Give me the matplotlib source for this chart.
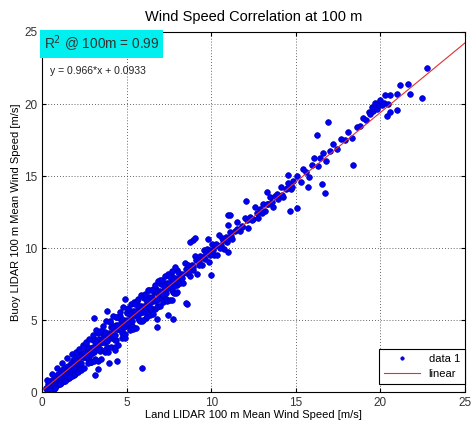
"""Wind speed correlation at 100 m: buoy LIDAR vs land LIDAR scatter."""

import matplotlib

matplotlib.use("Agg")
import matplotlib.pyplot as plt
import numpy as np

plt.rcParams["font.family"] = ["Liberation Sans", "DejaVu Sans"]

# fit reported on the chart
FIT_SLOPE = 0.966
FIT_INTERCEPT = 0.0933
R2_TEXT = "R$^2$ @ 100m = 0.99"
FIT_TEXT = "y = 0.966*x + 0.0933"

# low speeds, very dense
low_x = [0.25, 0.30, 0.35, 0.40, 0.45, 0.50, 0.55, 0.60, 0.62, 0.68, 0.70, 0.75, 0.78, 0.80,
         0.85, 0.88, 0.90, 0.95, 0.98, 1.00, 1.02, 1.05, 1.10, 1.12, 1.15, 1.18, 1.20, 1.25,
         1.28, 1.30, 1.32, 1.35, 1.40, 1.42, 1.45, 1.48, 1.50, 1.55, 1.58, 1.60, 1.62, 1.65,
         1.70, 1.72, 1.75, 1.78, 1.80, 1.85, 1.88, 1.90, 1.92, 1.95, 1.98, 2.00,
         0.30, 0.45, 0.60, 0.75, 0.90, 1.05, 1.20, 1.35, 1.50, 1.65, 1.80, 1.95]
low_y = [0.30, 0.15, 0.55, 0.35, 0.20, 0.70, 0.45, 0.30, 0.85, 0.55, 0.25, 0.95, 0.60, 0.40,
         1.10, 0.75, 0.50, 1.25, 0.85, 0.55, 1.05, 0.70, 1.45, 0.95, 0.65, 1.25, 0.80, 1.60,
         1.10, 0.75, 1.40, 0.95, 1.75, 1.20, 0.90, 1.55, 1.05, 1.85, 1.35, 0.95, 1.65, 1.20,
         2.05, 1.50, 1.10, 1.80, 1.35, 2.20, 1.60, 1.20, 1.95, 1.45, 2.30, 1.75,
         0.83, 0.17, 1.27, 0.31, 1.66, 0.55, 2.00, 0.79, 2.34, 1.03, 2.68, 1.27]

# 2 - 5 m/s
band_x = [2.05, 2.15, 2.25, 2.35, 2.45, 2.55, 2.65, 2.75, 2.85, 2.95, 3.05, 3.15, 3.25, 3.35,
          3.45, 3.55, 3.65, 3.75, 3.85, 3.95, 4.05, 4.15, 4.25, 4.35, 4.45, 4.55, 4.65, 4.75,
          4.85, 4.95,
          2.10, 2.20, 2.30, 2.40, 2.50, 2.60, 2.70, 2.80, 2.90, 3.00, 3.10, 3.20, 3.30, 3.40,
          3.50, 3.60, 3.70, 3.80, 3.90, 4.00, 4.10, 4.20, 4.30, 4.40, 4.50, 4.60, 4.70, 4.80,
          4.90, 5.00,
          2.02, 2.12, 2.22, 2.32, 2.42, 2.52, 2.62, 2.72, 2.82, 2.92, 3.02, 3.12, 3.22, 3.32,
          3.42, 3.52, 3.62, 3.72, 3.82, 3.92, 4.02, 4.12, 4.22, 4.32, 4.42, 4.52, 4.62, 4.72,
          4.82, 4.92,
          2.0, 2.1, 2.2, 2.3, 2.4, 2.5, 2.6, 2.7, 2.8, 2.9, 3.0, 3.1, 3.2, 3.3, 3.4, 3.5, 3.6,
          3.7, 3.8, 3.9, 4.0, 4.1, 4.2, 4.3, 4.4, 4.5, 4.6, 4.7, 4.8, 4.9]
band_y = [2.62, 1.82, 2.41, 1.66, 3.26, 2.45, 3.05, 2.20, 3.09, 2.69, 3.69, 2.28, 3.28, 3.68,
          2.97, 4.22, 3.47, 4.21, 3.16, 4.11, 4.55, 3.75, 4.35, 3.59, 5.19, 4.39, 4.98, 4.13,
          5.03, 4.62,
          1.92, 2.67, 1.71, 2.71, 2.46, 3.35, 2.30, 2.89, 2.09, 3.59, 2.78, 3.38, 4.13, 2.87,
          3.47, 4.02, 2.91, 4.06, 3.66, 4.85, 3.85, 4.60, 3.64, 4.64, 4.39, 5.28, 4.23, 4.83,
          4.02, 5.52,
          2.14, 1.99, 2.53, 2.03, 2.43, 2.72, 2.52, 3.07, 2.56, 2.96, 3.11, 2.95, 3.50, 3.00,
          3.39, 3.69, 3.49, 4.03, 3.53, 3.93, 4.07, 3.92, 4.47, 3.96, 4.36, 4.66, 4.45, 5.00,
          4.50, 4.89,
          2.77, 1.42, 3.02, 1.56, 3.11, 1.71, 3.45, 2.00, 3.69, 2.09, 3.99, 2.13, 4.33, 2.18,
          4.27, 2.27, 4.62, 2.76, 4.96, 2.81, 4.95, 3.10, 5.30, 3.14, 5.24, 3.24, 5.58, 3.73,
          5.93, 3.77]

# 5 - 8 m/s
mid_x = [5.05, 5.15, 5.25, 5.35, 5.45, 5.55, 5.65, 5.75, 5.85, 5.95, 6.05, 6.15, 6.25, 6.35,
         6.45, 6.55, 6.65, 6.75, 6.85, 6.95, 7.05, 7.15, 7.25, 7.35, 7.45, 7.55, 7.65, 7.75,
         7.85, 7.95,
         5.10, 5.20, 5.30, 5.40, 5.50, 5.60, 5.70, 5.80, 5.90, 6.00, 6.10, 6.20, 6.30, 6.40,
         6.50, 6.60, 6.70, 6.80, 6.90, 7.00, 7.10, 7.20, 7.30, 7.40, 7.50, 7.60, 7.70, 7.80,
         7.90, 8.00,
         5.02, 5.12, 5.22, 5.32, 5.42, 5.52, 5.62, 5.72, 5.82, 5.92, 6.02, 6.12, 6.22, 6.32,
         6.42, 6.52, 6.62, 6.72, 6.82, 6.92, 7.02, 7.12, 7.22, 7.32, 7.42, 7.52, 7.62, 7.72,
         7.82, 7.92,
         5.08, 5.18, 5.28, 5.38, 5.48, 5.58, 5.68, 5.78, 5.88, 5.98, 6.08, 6.18, 6.28, 6.38,
         6.48, 6.58, 6.68, 6.78, 6.88, 6.98, 7.08, 7.18, 7.28, 7.38, 7.48, 7.58, 7.68, 7.78,
         7.88, 7.98]
mid_y = [5.57, 4.66, 5.31, 4.51, 6.25, 5.35, 6.00, 5.04, 5.99, 5.54, 6.63, 5.13, 6.18, 6.62,
         5.82, 7.17, 6.36, 7.16, 6.01, 7.00, 7.50, 6.60, 7.24, 6.44, 8.19, 7.28, 7.93, 6.98,
         7.92, 7.47,
         4.82, 5.61, 4.56, 5.66, 5.35, 6.30, 5.15, 5.79, 4.94, 6.54, 5.63, 6.28, 7.08, 5.72,
         6.37, 6.97, 5.76, 7.01, 6.56, 7.80, 6.75, 7.55, 6.49, 7.59, 7.29, 8.23, 7.08, 7.73,
         6.87, 8.47,
         5.04, 4.89, 5.43, 4.93, 5.33, 5.62, 5.42, 5.97, 5.46, 5.86, 6.01, 5.85, 6.40, 5.90,
         6.29, 6.59, 6.39, 6.93, 6.43, 6.83, 6.97, 6.82, 7.37, 6.86, 7.26, 7.55, 7.35, 7.90,
         7.39, 7.79,
         5.85, 4.29, 6.14, 4.39, 6.13, 4.48, 6.48, 4.92, 6.77, 5.02, 6.81, 5.26, 7.11, 5.35,
         7.10, 5.45, 7.44, 5.89, 7.74, 5.98, 7.78, 6.23, 8.07, 6.32, 8.07, 6.41, 8.41, 6.86,
         8.70, 6.95]

# 8 - 11 m/s
upper_x = [8.05, 8.15, 8.25, 8.35, 8.45, 8.55, 8.65, 8.75, 8.85, 8.95, 9.05, 9.15, 9.25, 9.35,
           9.45, 9.55, 9.65, 9.75, 9.85, 9.95, 10.05, 10.15, 10.25, 10.35, 10.45, 10.55, 10.65,
           10.75, 10.85, 10.95,
           8.1, 8.3, 8.5, 8.7, 8.9, 9.1, 9.3, 9.5, 9.7, 9.9, 10.1, 10.3, 10.5, 10.7, 10.9]
upper_y = [8.37, 7.61, 8.21, 7.56, 8.95, 8.25, 8.80, 8.04, 8.84, 8.49, 9.43, 8.23, 9.08, 9.42,
           8.82, 9.87, 9.26, 9.96, 9.06, 9.85, 10.30, 9.55, 10.14, 9.49, 10.89, 10.18, 10.73,
           9.97, 10.77, 10.42,
           8.01, 7.91, 8.55, 8.39, 8.69, 9.18, 8.82, 9.37, 9.66, 9.50, 9.90, 10.29, 10.03, 10.53,
           10.62]

# 11 - 15 m/s
high_x = [11.1, 11.25, 11.4, 11.55, 11.7, 11.85, 12.0, 12.15, 12.3, 12.45, 12.6, 12.75, 12.9,
          13.05, 13.2, 13.35, 13.5, 13.65, 13.8, 13.95, 14.1, 14.25, 14.4, 14.55, 14.7, 14.85,
          11.2, 11.5, 11.8, 12.1, 12.4, 12.7, 13.0, 13.3, 13.6, 13.9, 14.2, 14.5, 14.8]
high_y = [11.11, 10.61, 11.20, 11.80, 11.19, 11.54, 12.08, 11.38, 12.17, 12.02, 12.86, 12.11,
          12.70, 13.05, 12.59, 13.04, 13.58, 12.88, 13.62, 13.42, 14.21, 13.56, 14.10, 14.50,
          14.09, 14.69,
          10.81, 11.35, 11.44, 11.98, 11.92, 12.46, 12.45, 13.09, 13.23, 13.77, 13.71, 14.15,
          14.24]

# 15 - 23 m/s
top_x = [15.1, 15.3, 15.45, 15.6, 15.8, 15.95, 16.1, 16.3, 16.45, 16.6, 16.8, 17.0, 17.2,
         17.45, 17.7, 17.9, 18.1, 18.35, 18.6, 18.8, 19.0, 19.15, 19.3, 19.4, 19.5, 19.55,
         19.65, 19.7, 19.8, 19.85, 19.9, 19.95,
         20.1, 20.2, 20.27, 20.37, 20.45, 20.57, 20.57, 20.96, 21.0, 21.16, 21.65, 21.75,
         22.44, 22.74]
top_y = [15.03, 14.62, 15.52, 15.26, 14.95, 15.75, 16.24, 15.69, 16.28, 16.58, 16.02, 16.71,
         17.26, 16.85, 17.59, 17.53, 18.07, 17.62, 18.41, 18.50, 19.04, 18.89, 19.43, 19.28,
         19.78, 19.53, 19.72, 20.07, 19.67, 20.07, 19.91, 20.26,
         19.9, 20.1, 20.6, 19.2, 20.0, 20.6, 19.47, 19.6, 20.7, 21.3, 21.4, 20.7, 20.4, 22.5]

# scattered points away from the band
outlier_x = [5.9, 3.84, 3.07, 4.43, 3.94, 3.11, 3.31, 4.93, 6.8, 6.82, 4.3, 7.76, 8.55, 8.94,
             8.75, 11.0, 11.0, 9.83, 9.97, 8.51, 7.46, 7.66, 11.0, 12.04, 11.1, 13.28, 14.66,
             14.56, 15.05, 15.74, 9.04, 18.36, 16.92, 16.24, 16.73, 16.53]
outlier_y = [1.7, 5.65, 5.16, 2.17, 1.99, 1.18, 1.58, 6.46, 5.1, 4.54, 2.9, 5.1, 6.1, 10.55,
             10.4, 12.3, 11.6, 10.6, 8.1, 6.16, 5.35, 6.39, 9.74, 13.3, 12.3, 13.9, 12.55,
             15.07, 12.8, 14.26, 10.67, 15.74, 18.77, 17.85, 13.8, 14.42]

TICKS = [0, 5, 10, 15, 20, 25]


def main() -> None:
    fig = plt.figure(figsize=(4.74, 4.30), dpi=100)
    ax = fig.add_axes([0.0886, 0.088, 0.8924, 0.8376])

    xs = np.concatenate([low_x, band_x, mid_x, upper_x, high_x, top_x, outlier_x])
    ys = np.concatenate([low_y, band_y, mid_y, upper_y, high_y, top_y, outlier_y])
    ax.plot(xs, ys, linestyle="none", marker="o", markersize=4.1,
            markerfacecolor="#0000f5", markeredgecolor="#0000b8",
            markeredgewidth=0.5, label="data 1")

    fit_x = np.array([0, 25])
    ax.plot(fit_x, FIT_SLOPE * fit_x + FIT_INTERCEPT, color="#e03030",
            linewidth=0.8, label="linear")

    ax.set_xlim(0, 25)
    ax.set_ylim(0, 25)
    ax.set_xticks(TICKS)
    ax.set_yticks(TICKS)
    ax.tick_params(direction="in", top=True, right=True, length=3,
                   labelsize=8.5, labelcolor="#333333")
    ax.grid(True, linestyle=(0, (1, 2.5)), color="#333333", linewidth=0.6)
    for spine in ax.spines.values():
        spine.set_linewidth(0.8)

    ax.set_title("Wind Speed Correlation at 100 m", fontsize=10.5, pad=8)
    ax.set_xlabel("Land LIDAR 100 m Mean Wind Speed [m/s]", fontsize=8, labelpad=1)
    ax.set_ylabel("Buoy LIDAR 100 m Mean Wind Speed [m/s]", fontsize=8, labelpad=2)

    ax.text(0.004, 0.995, R2_TEXT, transform=ax.transAxes, fontsize=9.8,
            color="#333333", va="top", ha="left",
            bbox=dict(facecolor="#00f0f0", edgecolor="none", pad=2.5))
    ax.text(0.02, 0.905, FIT_TEXT, transform=ax.transAxes, fontsize=7.5,
            color="#222222", va="top", ha="left")

    leg = ax.legend(loc="lower right", bbox_to_anchor=(1.0, 0.022), fontsize=8,
                    fancybox=False, edgecolor="black", framealpha=1,
                    borderaxespad=0, handlelength=3.2, labelspacing=0.45,
                    markerscale=0.6, borderpad=0.45)
    leg.get_frame().set_linewidth(0.8)

    fig.savefig("out.png", dpi=100)
    plt.close(fig)


if __name__ == "__main__":
    main()
